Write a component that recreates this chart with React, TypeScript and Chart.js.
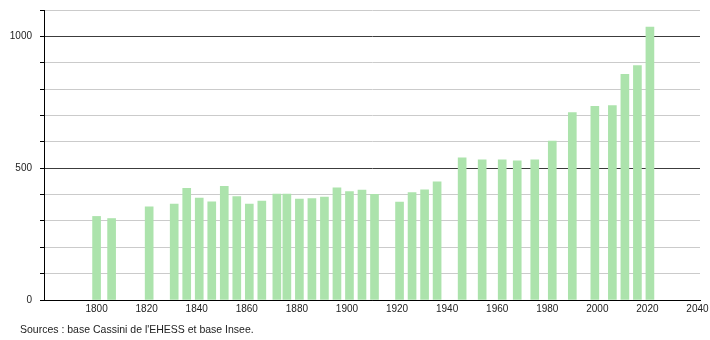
import React, { useEffect, useRef } from 'react';
import { Chart, registerables } from 'chart.js';

Chart.register(...registerables);

// Census years and population values
const years = [
  1800, 1806, 1821, 1831, 1836, 1841, 1846, 1851, 1856, 1861, 1866, 1872,
  1876, 1881, 1886, 1891, 1896, 1901, 1906, 1911, 1921, 1926, 1931, 1936,
  1946, 1954, 1962, 1968, 1975, 1982, 1990, 1999, 2006, 2011, 2016, 2021,
];
const population = [
  317, 309, 353, 364, 424, 387, 372, 431, 392, 364, 375, 402,
  402, 383, 385, 390, 425, 411, 417, 401, 371, 407, 418, 448,
  539, 532, 532, 528, 532, 603, 711, 735, 737, 856, 889, 1035,
];
const xTickLabels = [1800, 1820, 1840, 1860, 1880, 1900, 1920, 1940, 1960, 1980, 2000, 2020, 2040];
const yLabelValues = [0, 500, 1000];
const yMajorLines = [500, 1000];
const sourceText = "Sources : base Cassini de l'EHESS et base Insee.";

const FONT_FAMILY = '"Liberation Sans", Arial, Helvetica, sans-serif';

export default function App() {
  const ref = useRef<HTMLCanvasElement>(null);

  useEffect(() => {
    document.body.style.margin = '0';
    const canvas = ref.current;
    if (!canvas) return;
    const chart = new Chart(canvas, {
      type: 'bar',
      data: {
        datasets: [
          {
            data: years.map((y, i) => ({ x: y, y: population[i] })),
            backgroundColor: 'rgb(172, 227, 172)',
            borderWidth: 0,
            barThickness: 8,
          },
        ],
      },
      options: {
        responsive: false,
        animation: false,
        devicePixelRatio: 1,
        layout: { padding: { top: 10, right: 10, left: 0, bottom: 0 } },
        plugins: {
          legend: { display: false },
          tooltip: { enabled: false },
          title: { display: false },
        },
        scales: {
          x: {
            type: 'linear',
            min: 1779,
            max: 2041,
            bounds: 'data',
            offset: false,
            grid: { display: true, drawOnChartArea: false, drawTicks: false },
            border: { display: true, color: '#000', width: 1 },
            ticks: {
              padding: 3,
              autoSkip: false,
              maxRotation: 0,
              color: '#222',
              font: { family: FONT_FAMILY, size: 10 },
              callback: (v: any) => String(v),
            },
            afterBuildTicks: (s: any) => {
              s.ticks = xTickLabels.map((v) => ({ value: v }));
            },
            afterFit: (s: any) => {
              s.height = 40;
              s.paddingLeft = 0;
              s.paddingRight = 0;
            },
          } as any,
          y: {
            type: 'linear',
            min: 0,
            max: 1100,
            grid: {
              color: (ctx: any) => {
                const v = ctx.tick ? ctx.tick.value : -1;
                if (v === 0) return '#000';
                return yMajorLines.includes(v) ? '#3c3c3c' : '#cbcbcb';
              },
              lineWidth: 1,
              tickLength: 4,
              tickColor: '#000',
            },
            border: { display: true, color: '#000', width: 1 },
            ticks: {
              stepSize: 100,
              autoSkip: false,
              padding: 8,
              color: '#222',
              font: { family: FONT_FAMILY, size: 10 },
              callback: (v: any) => (yLabelValues.includes(Number(v)) ? String(v) : ''),
            },
            afterFit: (s: any) => {
              s.width = 44;
              s.paddingTop = 0;
              s.paddingBottom = 0;
            },
          } as any,
        },
      },
    });
    return () => chart.destroy();
  }, []);

  return (
    <div style={{ position: 'fixed', left: 0, top: 0, width: 710, height: 340, background: '#fff' }}>
      <canvas ref={ref} width={710} height={340} style={{ display: 'block', width: 710, height: 340 }} />
      <div
        style={{
          position: 'absolute',
          left: 20,
          top: 323,
          fontFamily: FONT_FAMILY,
          fontSize: 10.5,
          lineHeight: '12px',
          color: '#222',
          whiteSpace: 'nowrap',
        }}
      >
        {sourceText}
      </div>
    </div>
  );
}
